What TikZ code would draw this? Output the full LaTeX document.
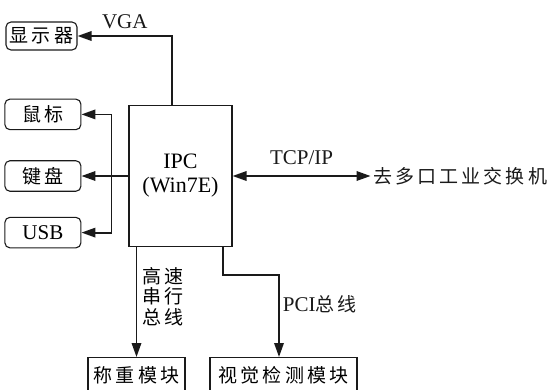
\documentclass[tikz,border=0pt]{standalone}
\usepackage{fontspec}
\setmainfont{Liberation Serif}
\newfontfamily\cjk[LetterSpace=16]{Noto Sans CJK SC}
\usepackage{xcolor}
\usetikzlibrary{arrows.meta,positioning}
\definecolor{ink}{HTML}{1A1A1A}
\tikzset{
  dev/.style={rectangle, rounded corners=5pt, draw=ink, line width=1.1pt,
              inner sep=0pt, minimum width=76pt, minimum height=30.5pt},
  pc/.style={rectangle, draw=ink, line width=1.1pt, align=center,
             minimum width=103pt, minimum height=141pt,
             font=\fontsize{22}{24}\selectfont},
  modbox/.style={rectangle, draw=ink, line width=1.1pt, anchor=north,
                 inner sep=0pt, minimum width=97pt, minimum height=36pt},
  fl/.style={-{Triangle[length=14pt,width=9.5pt]}, draw=ink, line width=1.8pt},
  flb/.style={{Triangle[length=14pt,width=9.5pt]}-{Triangle[length=14pt,width=9.5pt]},
              draw=ink, line width=1.8pt},
  lbl/.style={inner sep=2pt, text=ink, font=\fontsize{21}{24}\selectfont}
}
\newcommand{\zh}[1]{{\cjk\fontsize{19}{21}\selectfont #1}}

\begin{document}
\begin{tikzpicture}[x=1pt, y=-1pt, font=\fontsize{21}{24}\selectfont]
  \useasboundingbox (0,0) rectangle (555,389);
  \clip (0,0) rectangle (555,389);

  \node[pc] (ipc) at (180.5,176) {IPC\\(Win7E)};
  \node[dev, left=47pt of ipc] (kbd) {\zh{键盘}};
  \node[dev, above=30pt of kbd] (mouse) {\zh{鼠标}};
  \node[dev, below=25pt of kbd] (usb) {USB};
  \node[dev, minimum width=71pt, minimum height=28pt] (disp) at (41.5,36) {\zh{显示器}};
  \node[lbl, inner sep=3pt, right=138pt of ipc] (sw) {\zh{去多口工业交换机}};
  \node[modbox] (weigh) at (136.5,357) {\zh{称重模块}};
  \node[modbox, minimum width=147pt] (vis) at (283.5,357) {\zh{视觉检测模块}};

  % VGA to display
  \draw[fl] ([xshift=-8.5pt]ipc.north) |- node[lbl, pos=0.75, above=4.5pt] (vga) {VGA} (disp.east);

  % USB / keyboard / mouse branch
  \draw[line width=1.8pt, draw=ink] (ipc.west) -- ++(-17,0) coordinate (br);
  \draw[fl] (br) -- (kbd.east);
  \draw[fl] (br) |- (mouse.east);
  \draw[fl] (br) |- (usb.east);

  % network
  \draw[flb] (ipc.east) -- node[lbl, above=8.5pt] (tcp) {TCP/IP} (sw.west);

  % modules below
  \draw[fl] (weigh.north |- ipc.south) -- node[pos=0.45, right=3pt, align=center, inner sep=2pt,
        font=\cjk\fontsize{19}{20.5}\selectfont] (hss) {高速\\串行\\总线} (weigh.north);
  \draw[fl] ([xshift=42.5pt]ipc.south) -- ++(0,28) -| node[lbl, pos=0.68, right=1pt] (pci) {PCI\zh{总线}}
        ([xshift=-4.5pt]vis.north);
\end{tikzpicture}
\end{document}
